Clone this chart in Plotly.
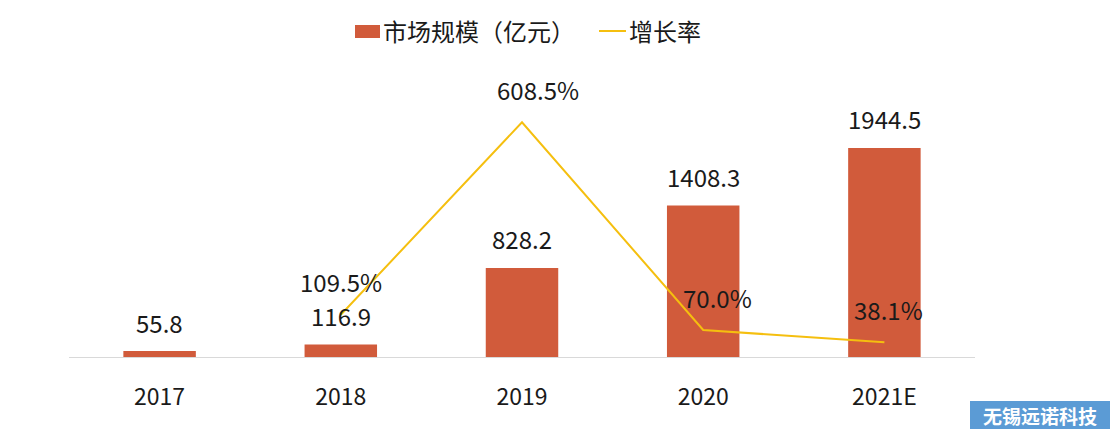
import plotly.graph_objects as go

years = ["2017", "2018", "2019", "2020", "2021E"]
market = [55.8, 116.9, 828.2, 1408.3, 1944.5]
growth = [None, 109.5, 608.5, 70.0, 38.1]

FONT = "Noto Sans CJK SC"
BAR_COLOR = "#D15B3B"
LINE_COLOR = "#F5BF0F"
TXT = "#1a1a1a"

L, R, T, B = 69, 135, 60, 72
W, H = 1110, 429
PW, PH = W - L - R, H - T - B


def px(xp):
    return (xp - L) / PW


def py(yp):
    return (H - B - yp) / PH


fig = go.Figure()
fig.add_trace(go.Bar(
    x=years, y=market, name="市场规模（亿元）",
    marker=dict(color=BAR_COLOR, line=dict(width=0)),
    width=0.40, yaxis="y", showlegend=False,
))
fig.add_trace(go.Scatter(
    x=years, y=growth, name="增长率", mode="lines",
    line=dict(color=LINE_COLOR, width=2), yaxis="y2",
    connectgaps=False, showlegend=False,
))

growth_xshift = [0, 0, 16, 14, 4]

annotations = []
for i, v in enumerate(market):
    annotations.append(dict(x=i, y=v, xref="x", yref="y", text=f"{v:.1f}",
                            showarrow=False, yshift=29, yanchor="middle",
                            font=dict(family=FONT, size=24, color=TXT)))
for i, v in enumerate(growth):
    if v is None:
        continue
    annotations.append(dict(x=i, y=v, xref="x", yref="y2", text=f"{v:.1f}%",
                            showarrow=False, yshift=33, xshift=growth_xshift[i],
                            yanchor="middle",
                            font=dict(family=FONT, size=24, color=TXT)))

# custom legend
shapes = [
    dict(type="rect", xref="paper", yref="paper", x0=px(355), x1=px(380), y0=py(38), y1=py(25),
         fillcolor=BAR_COLOR, line=dict(width=0)),
    dict(type="line", xref="paper", yref="paper", x0=px(599), x1=px(626), y0=py(31), y1=py(31),
         line=dict(color=LINE_COLOR, width=2)),
]
annotations.append(dict(x=px(381), y=py(30), xref="paper", yref="paper", xanchor="left", yanchor="middle",
                        text="市场规模（亿元）", showarrow=False,
                        font=dict(family=FONT, size=24, color=TXT)))
annotations.append(dict(x=px(627), y=py(30), xref="paper", yref="paper", xanchor="left", yanchor="middle",
                        text="增长率", showarrow=False,
                        font=dict(family=FONT, size=24, color=TXT)))

# watermark
shapes.append(dict(type="rect", xref="paper", yref="paper", x0=px(970), x1=px(1110), y0=py(429), y1=py(401),
                   fillcolor="#5B9BD5", line=dict(width=0), layer="above"))
annotations.append(dict(x=px(1040), y=py(415), xref="paper", yref="paper", xanchor="center", yanchor="middle",
                        text="<b>无锡远诺科技</b>", showarrow=False,
                        font=dict(family=FONT, size=19, color="white")))

fig.update_layout(
    width=W, height=H,
    margin=dict(l=L, r=R, t=T, b=B),
    paper_bgcolor="white", plot_bgcolor="white",
    font=dict(family=FONT, size=20, color=TXT),
    showlegend=False,
    xaxis=dict(type="category", range=[-0.5, 4.5], showgrid=False, showline=True, linecolor="#D9D9D9",
               linewidth=1, ticks="", tickfont=dict(family=FONT, size=23, color=TXT),
               ticklabelstandoff=19),
    yaxis=dict(range=[0, 2763], visible=False, showgrid=False),
    yaxis2=dict(range=[0, 770], overlaying="y", side="right", visible=False, showgrid=False),
    annotations=annotations,
    shapes=shapes,
)

fig.write_html("out.html", config={"displayModeBar": False},
               post_script="document.body.style.margin='0';")
